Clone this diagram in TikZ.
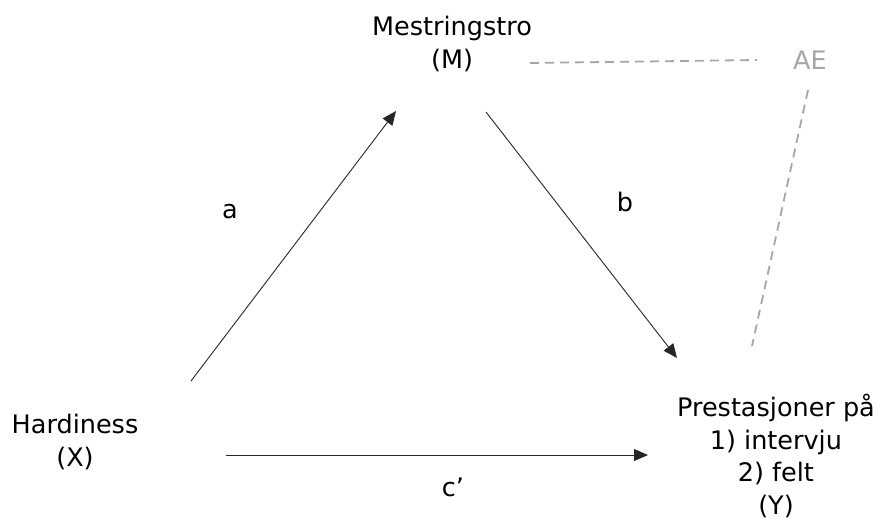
\documentclass[tikz,border=0pt]{standalone}
\usepackage{fontspec}
\setmainfont{DejaVu Sans}
\usetikzlibrary{arrows.meta}
\begin{document}
\begin{tikzpicture}[x=1pt,y=-1pt,
  lbl/.style={font=\fontsize{25.5}{32.5}\selectfont, align=center, inner sep=0pt},
  grey/.style={text=black!35},
  arr/.style={draw=black!85, line width=0.9pt, -{Triangle[length=14pt,width=12pt]}},
  dsh/.style={draw=black!35, line width=1.8pt, dash pattern=on 9pt off 6pt}]
\useasboundingbox (0,0) rectangle (878,520);
\node[lbl] (M) at (452,44) {Mestringstro\\(M)};
\node[lbl,grey] (AE) at (810,60) {AE};
\node[lbl] (X) at (75,442) {Hardiness\\(X)};
\node[lbl] (Y) at (776,456) {Prestasjoner på\\1) intervju\\2) felt\\(Y)};
\node[lbl] (la) at (230,212) {a};
\node[lbl] (lb) at (625,202) {b};
\node[lbl] (lc) at (453,487) {c’};
\coordinate (a0) at (191,381);
\coordinate (a1) at (396,111);
\coordinate (b0) at (486,112);
\coordinate (b1) at (677,358);
\coordinate (c0) at (226,455);
\coordinate (c1) at (648,455);
\coordinate (d0) at (530,63);
\coordinate (d1) at (757,60);
\coordinate (e0) at (808,90);
\coordinate (e1) at (752,346);
\draw[arr] (a0) -- (a1);
\draw[arr] (b0) -- (b1);
\draw[arr] (c0) -- (c1);
\draw[dsh] (d0) -- (d1);
\draw[dsh] (e0) -- (e1);
\end{tikzpicture}
\end{document}
